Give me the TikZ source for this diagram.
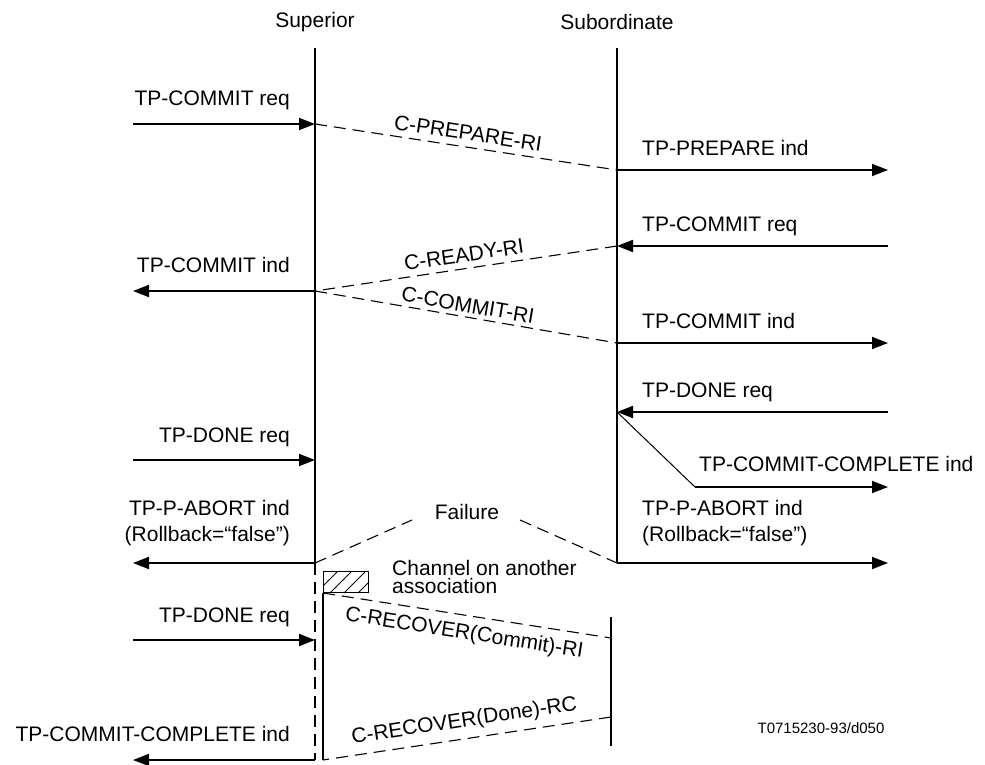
\documentclass[tikz,border=0pt]{standalone}
\usepackage{fontspec}
\setmainfont{Liberation Sans}
\usetikzlibrary{arrows.meta}
\begin{document}
\begin{tikzpicture}[x=1pt,y=-1pt,
  font=\fontsize{21}{26}\selectfont,
  life/.style={line width=1.6pt},
  msg/.style={line width=1.8pt,-{Triangle[length=16pt,width=12pt]}},
  thin/.style={line width=1pt},
  pdu/.style={line width=1.1pt,dash pattern=on 12pt off 7pt},
  pdulbl/.style={sloped,midway,inner sep=0pt},
  ltxt/.style={anchor=base east,inner sep=0pt},
  rtxt/.style={anchor=base west,inner sep=0pt},
]
\useasboundingbox (0,0) rectangle (985,765);

% column heads
\node (hsup) at (315,22) {Superior};
\node (hsub) at (617,22) {Subordinate};

% points on the superior lifeline
\coordinate (S0) at (315,48);
\coordinate (S1) at (315,124);
\coordinate (S2) at (315,291);
\coordinate (S3) at (315,460);
\coordinate (S4) at (315,563);
\coordinate (S5) at (315,640);
\coordinate (S6) at (315,760);
% points on the subordinate lifeline
\coordinate (B0) at (617,48);
\coordinate (B1) at (617,170);
\coordinate (B2) at (617,246);
\coordinate (B3) at (617,343);
\coordinate (B4) at (617,412);
\coordinate (B5) at (617,563);
% outer ends of the service primitives
\coordinate (L1) at (133,124);
\coordinate (L2) at (133,291);
\coordinate (L3) at (133,460);
\coordinate (L4) at (133,563);
\coordinate (L5) at (133,640);
\coordinate (L6) at (133,760);
\coordinate (R1) at (888,170);
\coordinate (R2) at (888,246);
\coordinate (R3) at (888,343);
\coordinate (R4) at (888,412);
\coordinate (R5) at (888,487);
\coordinate (R6) at (888,563);
\coordinate (K) at (695,487);
% recovery channel
\coordinate (C0) at (323,593);
\coordinate (C1) at (323,760);
\coordinate (P0) at (611,617);
\coordinate (P1) at (611,746);
\coordinate (P2) at (611,638);
\coordinate (P3) at (611,717);
% failure marks
\coordinate (FL) at (412,520);
\coordinate (FR) at (520,520);

% lifelines
\draw[life] (S0) -- (S4);
\draw[life] (B0) -- (B5);
\draw[pdu,line width=1.6pt] (S4) -- (S6);
\draw[life] (C0) -- (C1);
\draw[life] (P0) -- (P1);

% hatched channel box
\node[draw,thin,minimum width=45pt,minimum height=21pt,inner sep=0pt,anchor=south west] (chan) at (C0) {};
\begin{scope}
  \clip (chan.south west) rectangle (chan.north east);
  \foreach \i in {0,...,5}
    \draw[thin] ([xshift=\i*14pt-21pt]chan.south west) -- ++(21,-21);
\end{scope}
\node[anchor=north west,align=left,inner sep=0pt,font=\fontsize{21}{18}\selectfont] (chantxt) at (392,560) {Channel on another\\association};

% superior side primitives
\draw[msg] (L1) -- (S1);
\node[ltxt] (t1) at (290,106) {TP-COMMIT req};
\draw[msg] (S2) -- (L2);
\node[ltxt] (t2) at (290,272) {TP-COMMIT ind};
\draw[msg] (L3) -- (S3);
\node[ltxt] (t3) at (290,442) {TP-DONE req};
\draw[msg] (S4) -- (L4);
\node[ltxt] (t4) at (290,515) {TP-P-ABORT ind};
\node[ltxt] (t4b) at (290,541) {(Rollback=“false”)};
\draw[msg] (L5) -- (S5);
\node[ltxt] (t5) at (290,622) {TP-DONE req};
\draw[msg] (S6) -- (L6);
\node[ltxt] (t6) at (290,741) {TP-COMMIT-COMPLETE ind};

% subordinate side primitives
\draw[msg] (B1) -- (R1);
\node[rtxt] (u1) at (642,155) {TP-PREPARE ind};
\draw[msg] (R2) -- (B2);
\node[rtxt] (u2) at (642,231) {TP-COMMIT req};
\draw[msg] (B3) -- (R3);
\node[rtxt] (u3) at (642,328) {TP-COMMIT ind};
\draw[msg] (R4) -- (B4);
\node[rtxt] (u4) at (642,397) {TP-DONE req};
\draw[thin] (B4) -- (K);
\draw[msg] (K) -- (R5);
\node[rtxt] (u5) at (699,471) {TP-COMMIT-COMPLETE ind};
\draw[msg] (B5) -- (R6);
\node[rtxt] (u6) at (642,515) {TP-P-ABORT ind};
\node[rtxt] (u6b) at (642,541) {(Rollback=“false”)};

% protocol data units
\draw[pdu] (S1) -- node[pdulbl,above=6pt] {C-PREPARE-RI} (B1);
\draw[pdu] (B2) -- node[pdulbl,above=6pt] {C-READY-RI} (S2);
\draw[pdu] (S2) -- node[pdulbl,above=4pt] {C-COMMIT-RI} (B3);
\draw[pdu] (C0) -- node[pdulbl,below=8pt] {C-RECOVER(Commit)-RI} (P2);
\draw[pdu] (P3) -- node[pdulbl,above=7pt] {C-RECOVER(Done)-RC} (C1);

% failure
\node (fail) at (467,512) {Failure};
\draw[pdu] (S4) -- (FL);
\draw[pdu] (FR) -- (B5);

\node[font=\fontsize{15}{18}\selectfont] (ref) at (821,728) {T0715230-93/d050};
\end{tikzpicture}
\end{document}
